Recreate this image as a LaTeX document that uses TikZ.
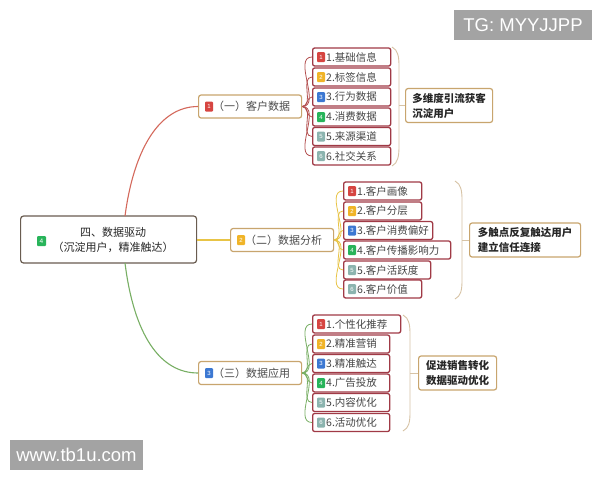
\documentclass[tikz,border=0pt]{standalone}
\usepackage{fontspec}
\setmainfont{Noto Sans CJK SC}
\newfontfamily\latinfont{Liberation Sans}
\definecolor{leafborder}{RGB}{160,58,70}
\definecolor{tanborder}{RGB}{200,165,110}
\definecolor{bracketcol}{RGB}{215,195,165}
\definecolor{rootborder}{RGB}{105,92,80}
\definecolor{icred}{RGB}{214,69,65}
\definecolor{icyellow}{RGB}{240,180,40}
\definecolor{icblue}{RGB}{60,120,210}
\definecolor{icgreen}{RGB}{40,180,90}
\definecolor{icgray}{RGB}{140,180,175}
\definecolor{linered}{RGB}{212,105,92}
\definecolor{lineleafred}{RGB}{180,80,80}
\definecolor{lineyellow}{RGB}{232,196,70}
\definecolor{linegreen}{RGB}{120,175,100}
\definecolor{tagbg}{RGB}{163,163,163}
\definecolor{txtgray}{RGB}{70,70,70}
\tikzset{
  leafbox/.style={draw=leafborder, line width=1.3pt, rounded corners=2pt, fill=white,
    minimum height=18pt, anchor=west, inner sep=0pt},
  iconbox/.style={minimum width=8pt, minimum height=10pt, inner sep=0pt, rounded corners=1pt,
    text=white, font=\latinfont\fontsize{6}{6}\selectfont},
  leaftext/.style={anchor=west, inner sep=0pt, text=txtgray, font=\fontsize{10.5}{13}\selectfont},
  parentbox/.style={draw=tanborder, line width=1.2pt, rounded corners=2.5pt, fill=white,
    minimum height=23pt, anchor=west, inner sep=0pt},
  sumbox/.style={draw=tanborder, line width=1.2pt, rounded corners=2.5pt, fill=white,
    minimum height=34pt, anchor=west, align=left, inner xsep=6.5pt, inner ysep=0pt,
    font=\fontsize{10.5}{15}\selectfont\bfseries, text=black!85},
  fan/.style={line width=0.8pt, out=0, in=180},
  brack/.style={draw=bracketcol, line width=0.9pt},
  tagbox/.style={fill=tagbg, text=white, inner sep=0pt, font=\latinfont\fontsize{18.5}{20}\selectfont}
}
\newcommand\leafnode[7]{%
  \node[leafbox, minimum width=#4pt] (#1) at (#2,#3) {};
  \node[iconbox, fill=#5] (#1i) at (#2+9,#3) {#6};
  \node[leaftext] (#1t) at (#2+14,#3) {#7};
}
\begin{document}
\begin{tikzpicture}[x=1pt,y=-1pt]
\useasboundingbox (0,0) rectangle (600,480);
\fill[white] (0,0) rectangle (600,480);

% root
\node[draw=rootborder, line width=1.2pt, rounded corners=3pt, fill=white, minimum width=176pt,
  minimum height=47pt, anchor=west, inner sep=0pt] (root) at (20,239.5) {};
\node[iconbox, fill=icgreen, minimum width=9pt, minimum height=10pt,
  font=\latinfont\fontsize{6.5}{7}\selectfont] (rooti) at (41.5,241) {4};
\node[align=center, inner sep=0pt, text=black!85, font=\fontsize{11}{15.5}\selectfont]
  (roott) at (113,240) {四、数据驱动\\（沉淀用户，精准触达）};
\coordinate (rt) at (125,216);
\coordinate (rb) at (125,263);

% parents
\node[parentbox, minimum width=103pt] (p1) at (198,106.5) {};
\node[iconbox, fill=icred] (p1i) at (209,106.5) {1};
\node[leaftext, text=black!70, font=\fontsize{11}{13}\selectfont] (p1t) at (213,106.5) {（一）客户数据};

\node[parentbox, minimum width=103pt] (p2) at (230,240) {};
\node[iconbox, fill=icyellow] (p2i) at (241,240) {2};
\node[leaftext, text=black!70, font=\fontsize{11}{13}\selectfont] (p2t) at (245,240) {（二）数据分析};

\node[parentbox, minimum width=103pt] (p3) at (198,373) {};
\node[iconbox, fill=icblue] (p3i) at (209,373) {3};
\node[leaftext, text=black!70, font=\fontsize{11}{13}\selectfont] (p3t) at (213,373) {（三）数据应用};

% main connectors
\draw[linered, line width=1.1pt] (rt) .. controls (134,148) and (160,106.5) .. (p1.west);
\draw[lineyellow, line width=1.1pt] (root.east |- p2.west) -- (p2.west);
\draw[linegreen, line width=1.1pt] (rb) .. controls (134,335) and (160,373) .. (p3.west);

% group 1 leaves
\leafnode{a1}{312}{57}{78}{icred}{1}{1.基础信息}
\leafnode{a2}{312}{77}{78}{icyellow}{2}{2.标签信息}
\leafnode{a3}{312}{97}{78}{icblue}{3}{3.行为数据}
\leafnode{a4}{312}{117}{78}{icgreen}{4}{4.消费数据}
\leafnode{a5}{312}{136.5}{78}{icgray}{5}{5.来源渠道}
\leafnode{a6}{312}{156}{78}{icgray}{6}{6.社交关系}
\foreach \n in {a1,a2,a3,a4,a5,a6}
  \draw[lineleafred, fan] (p1.east) to (\n.west);

% group 2 leaves
\leafnode{b1}{343}{191}{78}{icred}{1}{1.客户画像}
\leafnode{b2}{343}{211}{78}{icyellow}{2}{2.客户分层}
\leafnode{b3}{343}{230.5}{89}{icblue}{3}{3.客户消费偏好}
\leafnode{b4}{343}{250}{107}{icgreen}{4}{4.客户传播影响力}
\leafnode{b5}{343}{270}{87}{icgray}{5}{5.客户活跃度}
\leafnode{b6}{343}{289}{78}{icgray}{6}{6.客户价值}
\foreach \n in {b1,b2,b3,b4,b5,b6}
  \draw[lineyellow, fan] (p2.east) to (\n.west);

% group 3 leaves
\leafnode{c1}{312}{324}{88}{icred}{1}{1.个性化推荐}
\leafnode{c2}{312}{344}{77}{icyellow}{2}{2.精准营销}
\leafnode{c3}{312}{363.5}{77}{icblue}{3}{3.精准触达}
\leafnode{c4}{312}{383}{77}{icgreen}{4}{4.广告投放}
\leafnode{c5}{312}{402.5}{77}{icgray}{5}{5.内容优化}
\leafnode{c6}{312}{422.5}{77}{icgray}{6}{6.活动优化}
\foreach \n in {c1,c2,c3,c4,c5,c6}
  \draw[linegreen, fan] (p3.east) to (\n.west);

% summaries
\node[sumbox, minimum width=87pt] (s1) at (405,105.5) {多维度引流获客\\沉淀用户};
\node[sumbox, minimum width=111pt] (s2) at (469,240) {多触点反复触达用户\\建立信任连接};
\node[sumbox, minimum width=78pt] (s3) at (418,373) {促进销售转化\\数据驱动优化};

% brackets
\draw[brack] (392,47) .. controls (398,50) and (399,57) .. (399,66) -- (399,146)
  .. controls (399,156) and (398,163) .. (392,166);
\coordinate (k1) at (399,105.5);
\draw[brack] (k1) -- (s1.west);
\draw[brack] (455,181) .. controls (461,184) and (462,191) .. (462,200) -- (462,280)
  .. controls (462,290) and (461,296) .. (455,299);
\coordinate (k2) at (462,240);
\draw[brack] (k2) -- (s2.west);
\draw[brack] (403,315) .. controls (409,318) and (410,325) .. (410,334) -- (410,412)
  .. controls (410,422) and (409,428) .. (403,431);
\coordinate (k3) at (410,373);
\draw[brack] (k3) -- (s3.west);

% tags
\node[tagbox, minimum width=138pt, minimum height=30pt] (tg) at (523,25) {TG: MYYJJPP};
\node[tagbox, minimum width=133pt, minimum height=30pt] (www) at (76.5,455) {www.tb1u.com};
\end{tikzpicture}
\end{document}
